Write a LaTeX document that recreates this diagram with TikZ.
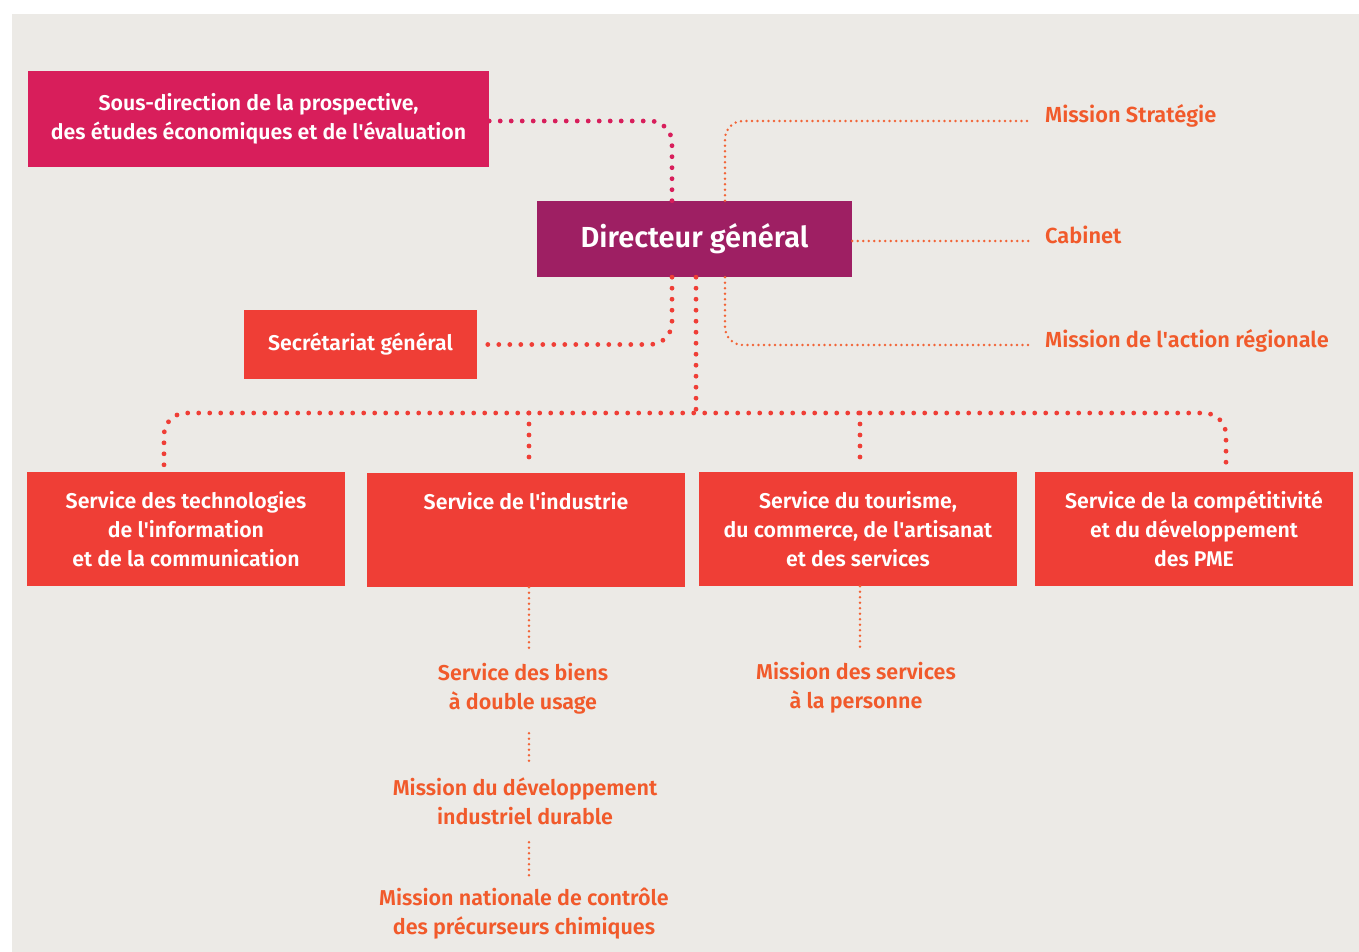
\documentclass[tikz,border=0pt]{standalone}
\usepackage{fontspec}
\setmainfont{Fira Sans}[UprightFont=* SemiBold]
\definecolor{bg}{HTML}{ECEAE6}
\definecolor{crimson}{HTML}{D81E5B}
\definecolor{purp}{HTML}{9E1F63}
\definecolor{red1}{HTML}{EF3E36}
\definecolor{orangetxt}{HTML}{F15A2B}
\definecolor{orangeline}{HTML}{F26436}
\newcommand{\ap}{\textquotesingle}
\tikzset{
  box/.style={rectangle, fill=#1, text=white, inner sep=0pt, align=center,
    font=\fontsize{21.3}{29}\selectfont},
  bigdots/.style={line width=4.8pt, line cap=round, dash pattern=on 0pt off 11pt, draw=#1},
  smalldots/.style={line width=2.7pt, line cap=round, dash pattern=on 0pt off 5.5pt, draw=orangeline},
  lbl/.style={text=orangetxt, inner sep=0pt, align=center, font=\fontsize{21.5}{29}\selectfont},
  sidelbl/.style={text=orangetxt, anchor=west, inner ysep=0pt, inner xsep=15pt,
    text height=8pt, text depth=4pt, font=\fontsize{21.8}{29}\selectfont}
}
\begin{document}
\begin{tikzpicture}[x=1pt,y=-1pt]
\useasboundingbox (0,0) rectangle (1359,952);
\fill[bg] (12,14) rectangle (1359,952);

% boxes
\node[box=crimson, minimum width=461pt, minimum height=96pt] (sd) at (258.5,119)
  {Sous-direction de la prospective,\\des études économiques et de l\ap évaluation};
\node[box=purp, minimum width=315pt, minimum height=76pt, font=\fontsize{29}{32}\selectfont] (dg) at (694.5,239)
  {Directeur général};
\node[box=red1, minimum width=233pt, minimum height=69pt] (sg) at (360.5,344.5)
  {Secrétariat général};
\node[box=red1, minimum width=318pt, minimum height=114pt] (s1) at (186,529)
  {Service des technologies\\de l\ap information\\et de la communication};
\node[box=red1, minimum width=318pt, minimum height=114pt] (s2) at (526,530)
  {Service de l\ap industrie\\~\\~};
\node[box=red1, minimum width=318pt, minimum height=114pt] (s3) at (858,529)
  {Service du tourisme,\\du commerce, de l\ap artisanat\\et des services};
\node[box=red1, minimum width=318pt, minimum height=114pt] (s4) at (1194,529)
  {Service de la compétitivité\\et du développement\\des PME};

% side labels
\node[sidelbl] (ms) at (1030,121) {Mission Stratégie};
\node[sidelbl] (cab) at (1030,241) {Cabinet};
\node[sidelbl] (mar) at (1030,345) {Mission de l\ap action régionale};

% lower labels
\node[lbl] (sb) at (523,688.5) {Service des biens\\à double usage};
\node[lbl] (md) at (525,801.5) {Mission du développement\\industriel durable};
\node[lbl] (mn) at (524,913.5) {Mission nationale de contrôle\\des précurseurs chimiques};
\node[lbl] (msp) at (856,687.5) {Mission des services\\à la personne};

% big dotted connectors
\draw[bigdots=crimson, rounded corners=22pt] ([yshift=-2pt]sd.east) -| ([xshift=-22.5pt]dg.north);
\draw[bigdots=red1, rounded corners=22pt] ([xshift=-22.5pt]dg.south) |- (sg.east);
\coordinate (hub) at (696,413);
\draw[bigdots=red1] ([xshift=1.5pt]dg.south) -- (hub);
\draw[bigdots=red1, rounded corners=22pt, shorten <=7pt, shorten >=7pt]
  ([xshift=-22pt]s1.north) |- (hub) -| ([xshift=32pt]s4.north);
\draw[bigdots=red1, shorten >=7pt] (hub -| s2.north) ++(3,0) -- ([xshift=3pt]s2.north);
\draw[bigdots=red1, shorten >=7pt] (hub -| s3.north) ++(2,0) -- ([xshift=2pt]s3.north);

% small dotted connectors
\draw[smalldots, rounded corners=18pt] ([xshift=30.5pt]dg.north) |- (ms.west);
\draw[smalldots] (dg.east |- cab.west) -- (cab.west);
\draw[smalldots, rounded corners=18pt] ([xshift=30.5pt]dg.south) |- (mar.west);
\draw[smalldots, shorten >=12pt] ([xshift=3pt]s2.south) -- ([xshift=3pt]s2.south |- sb.north);
\draw[smalldots, shorten <=19pt, shorten >=15pt] ([xshift=3pt]s2.south |- sb.south) -- ([xshift=3pt]s2.south |- md.north);
\draw[smalldots, shorten <=17pt, shorten >=11pt] ([xshift=3pt]s2.south |- md.south) -- ([xshift=3pt]s2.south |- mn.north);
\draw[smalldots, shorten >=12pt] ([xshift=2pt]s3.south) -- ([xshift=2pt]s3.south |- msp.north);
\end{tikzpicture}
\end{document}
